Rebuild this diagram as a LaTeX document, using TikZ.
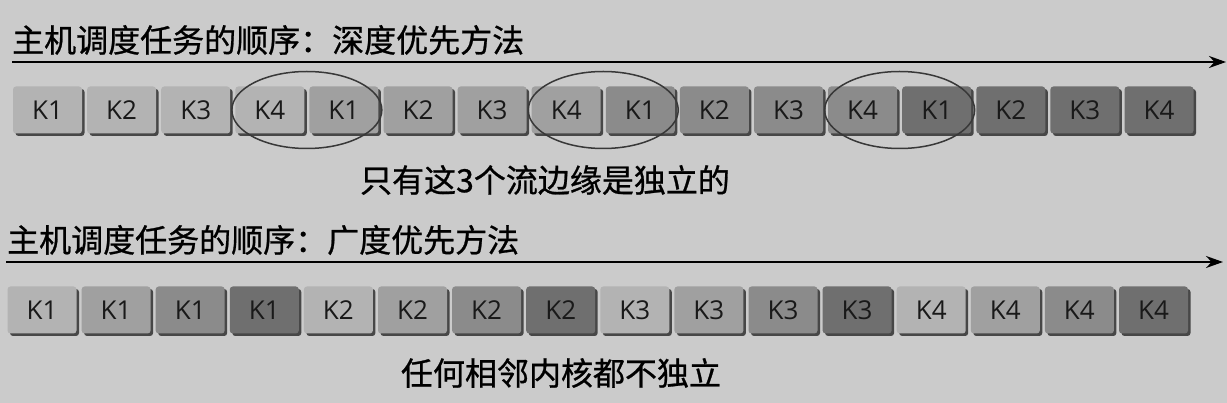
\documentclass[tikz,border=0pt]{standalone}
\usepackage{fontspec}
\newfontfamily\cjk{Noto Sans CJK SC}[FakeBold=0.8]
\newfontfamily\boxfont{Open Sans}
\usetikzlibrary{arrows.meta,shadows,shapes.geometric,calc}
\definecolor{bg}{HTML}{CBCBCB}
\definecolor{sA}{HTML}{B3B3B3}
\definecolor{sB}{HTML}{A0A0A0}
\definecolor{sC}{HTML}{8B8B8B}
\definecolor{sD}{HTML}{6F6F6F}
\definecolor{shad}{HTML}{474747}
\definecolor{ellc}{HTML}{383838}
\begin{document}
\begin{tikzpicture}[x=1pt,y=-1pt,
  kbox/.style={rounded corners=3pt, minimum width=69pt, minimum height=47pt, inner sep=0pt,
    font=\boxfont\fontsize{26}{26}\selectfont, text=black!90,
    drop shadow={shadow xshift=2.5pt,shadow yshift=-2.5pt,fill=shad,opacity=1}},
  title/.style={anchor=west, inner sep=0pt, font=\cjk\fontsize{32}{32}\selectfont},
  caption/.style={inner sep=0pt, font=\cjk\fontsize{32}{32}\selectfont},
  arr/.style={line width=2pt, -{Stealth[length=17pt,width=12pt]}},
  ell/.style={ellipse, draw=ellc, line width=1.5pt, minimum width=150pt, minimum height=77pt, inner sep=0pt}]
\fill[bg] (0,0) rectangle (1227,403);
\useasboundingbox (0,0) rectangle (1227,403);

% depth-first
\node[title] (t1) at (12,40) {主机调度任务的顺序：深度优先方法};
\coordinate (a1s) at (12,62);
\coordinate (a1e) at (1226,62);
\draw[arr] (a1s) -- (a1e);
\foreach \lab/\col [count=\i from 0] in {K1/sA,K2/sA,K3/sA,K4/sA,K1/sB,K2/sB,K3/sB,K4/sB,K1/sC,K2/sC,K3/sC,K4/sC,K1/sD,K2/sD,K3/sD,K4/sD}{
  \node[kbox, fill=\col] (d\i) at (47.5+74.1*\i,110) {\lab};
}
\node[ell] (e1) at ($(d3)!0.5!(d4)$) {};
\node[ell] (e2) at ($(d7)!0.5!(d8)$) {};
\node[ell] (e3) at ($(d11)!0.5!(d12)$) {};
\node[caption] (c1) at (545,180) {只有这3个流边缘是独立的};

% breadth-first
\node[title] (t2) at (7,240) {主机调度任务的顺序：广度优先方法};
\coordinate (a2s) at (6,262);
\coordinate (a2e) at (1223,262);
\draw[arr] (a2s) -- (a2e);
\foreach \lab/\col [count=\i from 0] in {K1/sA,K1/sB,K1/sC,K1/sD,K2/sA,K2/sB,K2/sC,K2/sD,K3/sA,K3/sB,K3/sC,K3/sD,K4/sA,K4/sB,K4/sC,K4/sD}{
  \node[kbox, fill=\col] (b\i) at (42+74.1*\i,310) {\lab};
}
\node[caption] (c2) at (561,373) {任何相邻内核都不独立};
\end{tikzpicture}
\end{document}
